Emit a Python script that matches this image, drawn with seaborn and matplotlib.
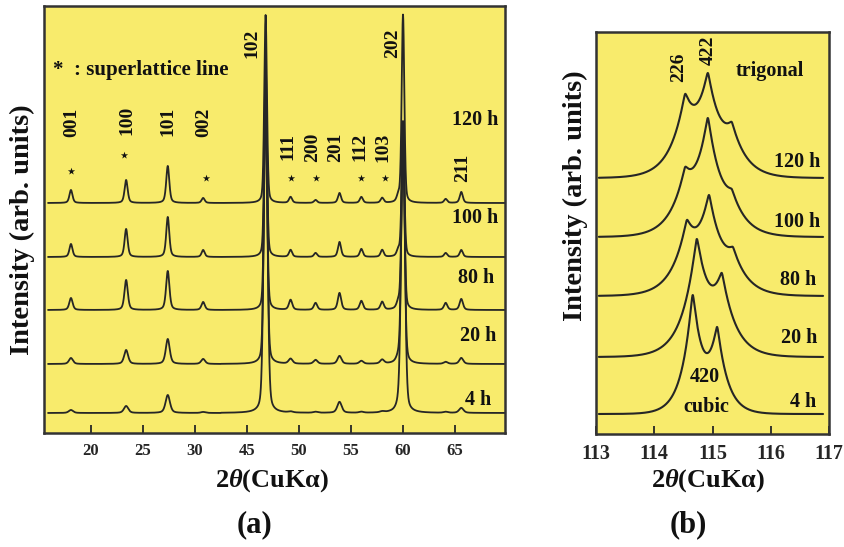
import numpy as np
import pandas as pd
import matplotlib
matplotlib.use("Agg")
import matplotlib.pyplot as plt
import seaborn as sns

# ---------------- data ----------------
durations = ["120 h", "100 h", "80 h", "20 h", "4 h"]

# (a) reflections (2θ, degrees) and their indices
refl_a = ["001", "100", "101", "002", "102", "111", "200", "201", "112", "103", "", "202", "", "211"]
pos_a = [18.1, 23.4, 27.4, 30.8, 46.8, 49.2, 51.6, 53.9, 56.0, 58.0, 59.55, 60.0, 64.1, 65.6]
superlattice = ["001", "100", "002", "111", "200", "112", "103"]

# peak heights above each pattern's baseline (arb. units)
h120_a = [13, 23, 37, 5, 188, 6, 3, 10, 6, 5, 6, 188, 4, 11]
h100_a = [13, 28, 40, 7, 197, 7, 4, 15, 8, 7, 6, 135, 4, 7]
h80_a = [12, 30, 39, 8, 223, 10, 7, 17, 9, 8, 6, 188, 7, 11]
h20_a = [6, 14, 25, 5, 277, 5, 4, 8, 3, 4, 4, 242, 2, 6]
h4_a = [3, 7, 18, 1, 326, 1, 1, 11, 1, 1, 3, 291, 1, 5]
base_a = [230, 176, 123, 69, 20]
fwhm_a = [0.35, 0.35, 0.38, 0.45, 0.5]
fwhm_main_a = [0.3, 0.3, 0.32, 0.36, 0.42]

# axis tick labels of the broken 2θ scale (30 -> 45 jump)
ticks_a = [20, 25, 30, 45, 50, 55, 60, 65]

# (b) 113-117° region: peak positions and apex heights above baseline
pos120_b = [114.53, 114.92, 115.33]
pos100_b = [114.53, 114.92, 115.33]
pos80_b = [114.56, 114.94, 115.35]
pos20_b = [114.73, 115.16]
pos4_b = [114.66, 115.08]
h120_b = [84, 105, 56]
h100_b = [70, 119, 48]
h80_b = [76, 101, 49]
h20_b = [118, 84]
h4_b = [119, 87]
base_b = [256, 197, 138, 77, 20]
decay_b = [0.25, 0.25, 0.25, 0.24, 0.18]
ticks_b = [113, 114, 115, 116, 117]

# ---------------- styling ----------------
sns.set_theme(style="ticks")
plt.rcParams["font.family"] = ["Liberation Serif", "DejaVu Serif"]
plt.rcParams["font.weight"] = "bold"
plt.rcParams["axes.labelweight"] = "bold"
plt.rcParams["mathtext.fontset"] = "custom"
plt.rcParams["mathtext.it"] = "Liberation Serif:italic:bold"
plt.rcParams["mathtext.rm"] = "Liberation Serif:bold"

YELLOW = "#f8eb6c"
INK = "#262626"

W, H = 845, 547
fig = plt.figure(figsize=(W / 100, H / 100), dpi=100)


def frac(x0, y0, x1, y1):
    return [x0 / W, 1 - y1 / H, (x1 - x0) / W, (y1 - y0) / H]


def to_axis(tt):
    tt = np.asarray(tt, dtype=float)
    return np.where(tt < 40, tt, tt - 10)


def pseudo_voigt(x, c, h, fwhm, eta):
    s = fwhm / 2.3548
    g = np.exp(-0.5 * ((x - c) / s) ** 2)
    lo = 1.0 / (1.0 + ((x - c) / (fwhm / 2)) ** 2)
    return h * (eta * lo + (1 - eta) * g)


def cusp(x, c, w):
    # sharp-tipped exponential profile, slightly rounded at the apex
    return np.exp(-(np.sqrt((x - c) ** 2 + 0.012 ** 2) - 0.012) / w)


# ---------------- panel (a) ----------------
ax = fig.add_axes(frac(44, 6, 505, 433))
ax.set_facecolor(YELLOW)

tt = np.concatenate([np.arange(15.9, 32.5, 0.01), np.arange(42.5, 69.8, 0.01)])
heights_a = [h120_a, h100_a, h80_a, h20_a, h4_a]
frames = []
for name, hs, b, fw, fwm in zip(durations, heights_a, base_a, fwhm_a, fwhm_main_a):
    y = np.full_like(tt, b, dtype=float)
    for ref, c, h in zip(refl_a, pos_a, hs):
        if ref in ("102", "202"):
            y += pseudo_voigt(tt, c, h, fwm, 0.3)
        else:
            y += pseudo_voigt(tt, c, h, fw, 0.5)
    frames.append(pd.DataFrame({"pos": to_axis(tt), "intensity": y, "duration": name}))
df_a = pd.concat(frames, ignore_index=True)
sns.lineplot(data=df_a, x="pos", y="intensity", hue="duration", units="duration",
             estimator=None, sort=False, palette=[INK] * 5, legend=False,
             linewidth=1.3, ax=ax)

ax.set_xlim(15.51, 59.8)
ax.set_ylim(0, 427)
ax.set_xticks(to_axis(ticks_a))
ax.set_xticklabels([str(t) for t in ticks_a], fontsize=12)
ax.set_yticks([])
ax.set_xlabel("")
ax.set_ylabel("")
ax.tick_params(axis="x", direction="in", length=6, width=1.3, pad=7, colors=INK)
for sp in ax.spines.values():
    sp.set_visible(True)
    sp.set_linewidth(1.8)
    sp.set_color("#333333")

# reflection indices
idx_pos = {
    "001": (18.2, 311), "100": (23.5, 313), "101": (27.4, 312), "002": (30.9, 311),
    "102": (35.5, 390), "202": (49.0, 390), "111": (38.95, 286), "200": (41.35, 286),
    "201": (43.5, 286), "112": (45.9, 286), "103": (48.1, 286), "211": (55.75, 265),
}
for ref, (x, y) in idx_pos.items():
    ax.text(x, y, ref, rotation=90, ha="center", va="center", fontsize=14, color="#111111")

# superlattice markers
star_y = {"001": 262, "100": 278, "002": 255, "111": 255, "200": 255, "112": 255, "103": 255}
star_x = [to_axis(pos_a[refl_a.index(r)]) for r in superlattice]
star_x[1] -= 0.2
star_x[2] += 0.27
star_x[6] += 0.27
ax.scatter(star_x, [star_y[r] for r in superlattice], marker="*", s=30, color="#111111",
           linewidths=0, zorder=5)
ax.text(16.38, 363, "*  : superlattice line", ha="left", va="center", fontsize=15,
        color="#111111")

# duration labels
lab_a = [(59.15, 313), (59.15, 215), (58.8, 155), (58.95, 97), (58.5, 33)]
for name, (x, y) in zip(durations, lab_a):
    ax.text(x, y, name, ha="right", va="center", fontsize=14.5, color="#111111")

# ---------------- panel (b) ----------------
bx = fig.add_axes(frac(596, 32, 829, 434))
bx.set_facecolor(YELLOW)

xb = np.arange(113.05, 116.9, 0.004)
pos_b = [pos120_b, pos100_b, pos80_b, pos20_b, pos4_b]
heights_b = [h120_b, h100_b, h80_b, h20_b, h4_b]
frames = []
for name, ps, hs, b, w in zip(durations, pos_b, heights_b, base_b, decay_b):
    ps = np.asarray(ps)
    m = cusp(ps[:, None], ps[None, :], w)
    amp = np.linalg.solve(m, np.asarray(hs, dtype=float))
    y = np.full_like(xb, b, dtype=float)
    for c, a in zip(ps, amp):
        y += a * cusp(xb, c, w)
    frames.append(pd.DataFrame({"two_theta": xb, "intensity": y, "duration": name}))
df_b = pd.concat(frames, ignore_index=True)
sns.lineplot(data=df_b, x="two_theta", y="intensity", hue="duration", units="duration",
             estimator=None, sort=False, palette=[INK] * 5, legend=False,
             linewidth=1.5, ax=bx)

bx.set_xlim(113, 117)
bx.set_ylim(0, 402)
bx.set_xticks(ticks_b)
bx.set_xticklabels([str(t) for t in ticks_b], fontsize=14.5)
bx.set_yticks([])
bx.set_xlabel("")
bx.set_ylabel("")
bx.tick_params(axis="x", direction="in", length=6, width=1.3, pad=7, colors=INK)
for sp in bx.spines.values():
    sp.set_visible(True)
    sp.set_linewidth(1.8)
    sp.set_color("#333333")

bx.text(114.41, 367, "226", rotation=90, ha="center", va="center", fontsize=14, color="#111111")
bx.text(114.92, 384, "422", rotation=90, ha="center", va="center", fontsize=14, color="#111111")
bx.text(115.99, 363, "trigonal", ha="center", va="center", fontsize=14.5, color="#111111")
bx.text(114.87, 57, "420", ha="center", va="center", fontsize=14.5, color="#111111")
bx.text(114.9, 27, "cubic", ha="center", va="center", fontsize=14.5, color="#111111")
lab_b = [(116.45, 272), (116.45, 212), (116.47, 154), (116.48, 96), (116.55, 32)]
for name, (x, y) in zip(durations, lab_b):
    bx.text(x, y, name, ha="center", va="center", fontsize=14.5, color="#111111")

# ---------------- figure labels ----------------
def ftext(x, y, s, **kw):
    fig.text(x / W, 1 - y / H, s, ha="center", va="center", color="#111111", **kw)


ftext(22, 230, "Intensity (arb. units)", rotation=90, fontsize=20.5)
ftext(575, 196, "Intensity (arb. units)", rotation=90, fontsize=20.5)
ftext(272, 481, r"2$\theta$(CuKα)", fontsize=19)
ftext(708, 481, r"2$\theta$(CuKα)", fontsize=19)
ftext(254, 525, "(a)", fontsize=22)
ftext(688, 525, "(b)", fontsize=22)

fig.savefig("out.png", dpi=100, facecolor="white")
